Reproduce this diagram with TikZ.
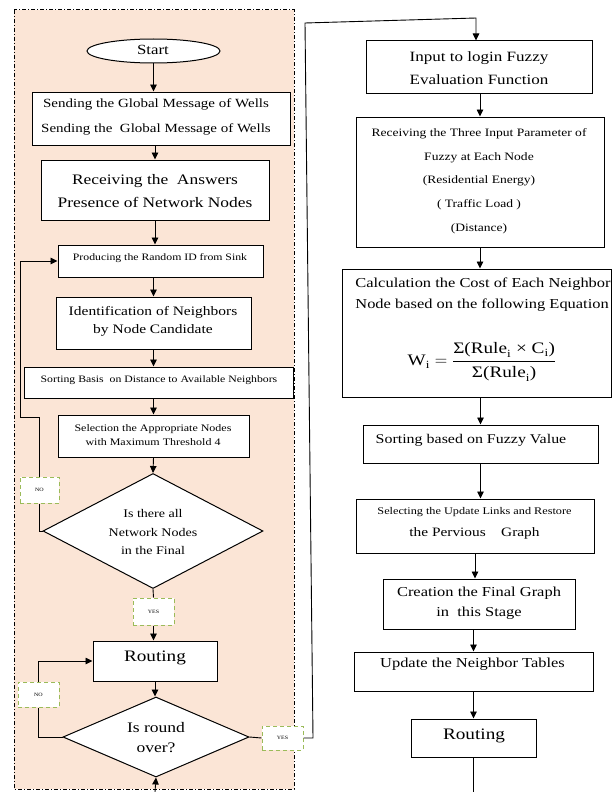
\documentclass[tikz,border=0pt]{standalone}
\usepackage{fontspec}
\setmainfont{Liberation Serif}[FakeStretch=1.2]
\usetikzlibrary{shapes.geometric,arrows.meta}
\definecolor{peach}{RGB}{251,229,214}
\definecolor{lgreen}{RGB}{155,187,89}
\newcommand{\fsz}[2]{\fontsize{#1}{#2}\selectfont}
\tikzset{
 box/.style={draw=black, line width=1pt, fill=white, inner sep=0pt},
 txt/.style={inner sep=0pt, align=center, text=black},
 lab/.style={draw=lgreen, dash pattern=on 4pt off 3pt, line width=1pt, fill=white, inner sep=0pt, font=\fsz{5}{6}},
 arr/.style={-{Triangle[length=7pt,width=6.5pt]}, line width=0.9pt},
 ln/.style={line width=0.9pt},
}
\begin{document}
\begin{tikzpicture}[x=1pt,y=-1pt]
\useasboundingbox (0,0) rectangle (612,792);
\fill[white] (0,0) rectangle (612,792);
% frame
\draw[fill=peach, line width=1pt, dash pattern=on 4pt off 2pt on 1pt off 2pt] (14,10) rectangle (294,789);

% left column shapes
\node[box, ellipse, minimum width=133pt, minimum height=24pt] (start) at (153.5,51) {};
\node[box, minimum width=258pt, minimum height=53pt] (b1) at (161,118.5) {};
\node[box, minimum width=228pt, minimum height=60pt] (b2) at (155,190) {};
\node[box, minimum width=205pt, minimum height=32pt] (b3) at (160.5,261) {};
\node[box, minimum width=195pt, minimum height=52pt] (b4) at (153.5,323) {};
\node[box, minimum width=269pt, minimum height=31pt] (b5) at (158.5,382.5) {};
\node[box, minimum width=191pt, minimum height=42pt] (b6) at (153.5,436) {};
\node[box, diamond, minimum width=220pt, minimum height=115pt] (d1) at (153,531) {};
\node[box, minimum width=124pt, minimum height=40pt] (r1) at (155,661) {};
\node[box, diamond, minimum width=186pt, minimum height=80pt] (d2) at (156,737) {};

% left column texts
\node[txt, font=\fsz{14}{15}] (tstart) at (153,50) {Start};
\node[txt, font=\fsz{12.5}{25}] (t1) at (156,117) {Sending the Global Message of Wells\\Sending the\ \ Global Message of Wells};
\node[txt, font=\fsz{14.5}{23}] (t2) at (155,191) {Receiving the\ \ Answers\\Presence of Network Nodes};
\node[txt, font=\fsz{9.8}{12}] (t3) at (160,258) {Producing the Random ID from Sink};
\node[txt, font=\fsz{12.9}{18}] (t4) at (153,321) {Identification of Neighbors\\by Node Candidate};
\node[txt, font=\fsz{9.8}{12}] (t5) at (159,380) {Sorting Basis\ \ on Distance to Available Neighbors};
\node[txt, font=\fsz{10}{14}] (t6) at (153,435) {Selection the Appropriate Nodes\\with Maximum Threshold 4};
\node[txt, font=\fsz{11.7}{18.5}] (td1) at (153,532) {Is there all\\Network Nodes\\in the Final};
\node[txt, font=\fsz{16}{18}] (tr1) at (155,658) {Routing};
\node[txt, font=\fsz{14.6}{20}] (td2) at (156,738) {Is round\\over?};

% yes/no labels
\node[lab, minimum width=39pt, minimum height=26pt] (no1) at (39.5,490) {NO};
\node[lab, minimum width=41pt, minimum height=27pt] (yes1) at (153.5,611.5) {YES};
\node[lab, minimum width=41pt, minimum height=25pt] (no2) at (38.5,694.5) {NO};
\node[lab, minimum width=41pt, minimum height=24pt] (yes2) at (282.5,738) {YES};

% right column shapes
\node[box, minimum width=226pt, minimum height=52pt] (in) at (479,67) {};
\node[box, minimum width=248pt, minimum height=130pt] (rc) at (480,182) {};
\node[box, minimum width=269pt, minimum height=128pt] (ca) at (476.5,333) {};
\node[box, minimum width=235pt, minimum height=38pt] (sf) at (480.5,444) {};
\node[box, minimum width=238pt, minimum height=54pt] (se) at (475,526) {};
\node[box, minimum width=192pt, minimum height=50pt] (cr) at (479,604) {};
\node[box, minimum width=239pt, minimum height=39pt] (up) at (473.5,671.5) {};
\node[box, minimum width=125pt, minimum height=38pt] (r2) at (473.5,738) {};

% right column texts
\node[txt, font=\fsz{14.2}{23}] (tin) at (479,68) {Input to login Fuzzy\\Evaluation Function};
\node[txt, font=\fsz{11.3}{23.7}] (trc) at (479,181) {Receiving the Three Input Parameter of\\Fuzzy at Each Node\\(Residential Energy)\\( Traffic Load )\\(Distance)};
\node[txt, align=left, font=\fsz{13.7}{21}] (tca) at (483,294.5) {Calculation the Cost of Each Neighbor\\Node based on the following Equation};
\node[txt, font=\fsz{16}{19}] (teq) at (482,362) {$\mbox{W}_{\mbox{\fsz{11}{12}i}}=\displaystyle\frac{\mbox{Σ(Rule}_{\mbox{\fsz{11}{12}i}}\mbox{ × C}_{\mbox{\fsz{11}{12}i}}\mbox{)}}{\mbox{Σ(Rule}_{\mbox{\fsz{11}{12}i}}\mbox{)}}$};
\node[txt, font=\fsz{13.3}{15}] (tsf) at (471,440) {Sorting based on Fuzzy Value};
\node[txt, font=\fsz{10.2}{12}] (tse1) at (474.5,512) {Selecting the Update Links and Restore};
\node[txt, font=\fsz{12.8}{15}] (tse2) at (474.5,533) {the Pervious\ \ \ \ Graph};
\node[txt, font=\fsz{13.7}{20}] (tcr) at (479,603) {Creation the Final Graph\\in\ \ this Stage};
\node[txt, font=\fsz{13.7}{15}] (tup) at (472.5,664) {Update the Neighbor Tables};
\node[txt, font=\fsz{16}{18}] (tr2) at (474,736) {Routing};

% coordinates for free ends and bends
\coordinate (k1) at (39.5,417);
\coordinate (k2) at (20,417);
\coordinate (c1) at (313,738);
\coordinate (c2) at (305,23);
\coordinate (c3) at (476,18);
\coordinate (bot) at (155,792);
\coordinate (bot2) at (473.5,792);

% left connectors
\draw[arr] (start) -- (start |- b1.north);
\draw[arr] (b2.center |- b1.south) -- (b2.north);
\draw[arr] (b2.south) -- (b2.south |- b3.north);
\draw[arr] (b4.center |- b3.south) -- (b4.north);
\draw[arr] (b4.south) -- (b4.south |- b5.north);
\draw[arr] (b6.center |- b5.south) -- (b6.north);
\draw[arr] (b6.south) -- (d1.north);
\draw[ln] (d1.south) -- (yes1.north);
\draw[arr] (yes1.south) -- (yes1.south |- r1.north);
\draw[arr] (r1.south) -- (r1.south |- d2.north);
\draw[ln] (d1.west) -| (no1.south);
\draw[arr] (no1.north) -- (k1) -- (k2) |- (b3.west);
\draw[ln] (d2.west) -| (no2.south);
\draw[arr] (no2.north) |- (r1.west);
\draw[ln] (d2.east) -- (yes2.west);
\draw[arr] (yes2.east) -- (c1) -- (c2) -- (c3) -- (c3 |- in.north);
\draw[arr] (bot) -- (d2.south);

% right connectors
\draw[arr] (rc.center |- in.south) -- (rc.north);
\draw[arr] (rc.south) -- (rc.south |- ca.north);
\draw[arr] (sf.center |- ca.south) -- (sf.north);
\draw[arr] (sf.south) -- (sf.south |- se.north);
\draw[arr] (se.south) -- (se.south |- cr.north);
\draw[arr] (r2.center |- cr.south) -- (r2.center |- up.north);
\draw[arr] (r2.center |- up.south) -- (r2.north);
\draw[ln] (r2.south) -- (bot2);
\end{tikzpicture}
\end{document}
